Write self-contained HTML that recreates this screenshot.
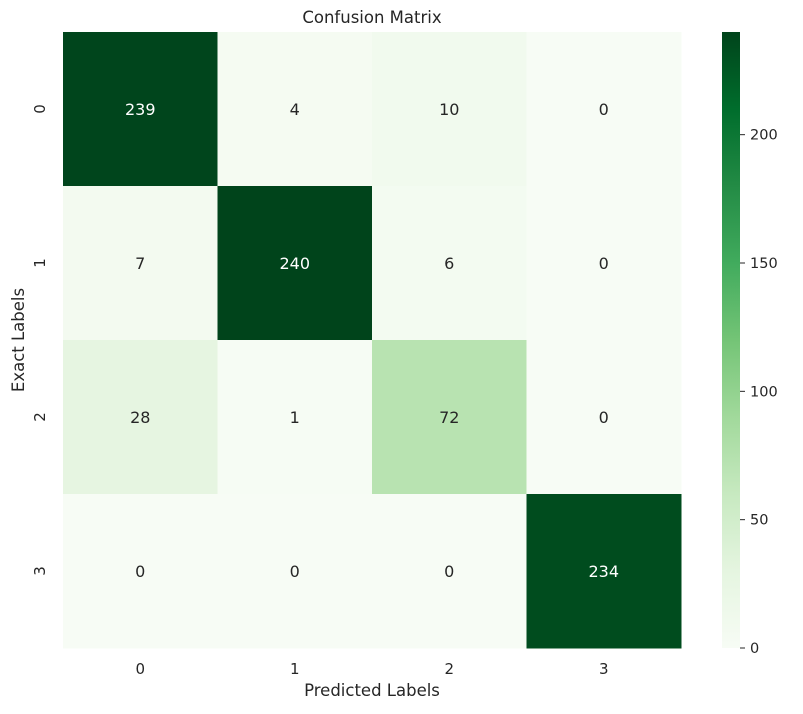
<!DOCTYPE html>
<html><head><meta charset="utf-8"><style>
body{margin:0;background:#fff;font-family:"DejaVu Sans","Liberation Sans",sans-serif;}
</style></head><body>
<svg id="chart" width="803" height="710" font-family="DejaVu Sans, Liberation Sans, sans-serif">
<defs><linearGradient id="cbgrad" x1="0" y1="1" x2="0" y2="0">
<stop offset="0" stop-color="#f7fcf5"/><stop offset="0.125" stop-color="#e5f5e0"/><stop offset="0.25" stop-color="#c7e9c0"/><stop offset="0.375" stop-color="#a1d99b"/><stop offset="0.5" stop-color="#74c476"/><stop offset="0.625" stop-color="#41ab5d"/><stop offset="0.75" stop-color="#238b45"/><stop offset="0.875" stop-color="#006d2c"/><stop offset="1" stop-color="#00441b"/>
</linearGradient></defs>
<text x="372" y="23" font-size="16.5" text-anchor="middle" fill="#262626">Confusion Matrix</text>
<g id="cells"></g>
<text x="372" y="696" font-size="16.5" text-anchor="middle" fill="#262626">Predicted Labels</text>
<text transform="translate(24,340) rotate(-90)" font-size="16.5" text-anchor="middle" fill="#262626">Exact Labels</text>
<rect x="722" y="32" width="18" height="616" fill="url(#cbgrad)"/>
<g id="cbticks"></g>
</svg>
<script>
const labels=["0","1","2","3"];
const matrix=[[239,4,10,0],[7,240,6,0],[28,1,72,0],[0,0,0,234]];
const cbTicks=[0,50,100,150,200];
const vmin=0,vmax=240;
const X0=63,X1=681,Y0=32,Y1=648;
const stops=["f7fcf5","e5f5e0","c7e9c0","a1d99b","74c476","41ab5d","238b45","006d2c","00441b"].map(h=>[0,2,4].map(i=>parseInt(h.substr(i,2),16)));
function color(v){let t=Math.max(0,Math.min(1,(v-vmin)/(vmax-vmin)))*(stops.length-1);let i=Math.min(Math.floor(t),stops.length-2),f=t-i;
return "rgb("+stops[i].map((c,k)=>Math.round(c+(stops[i+1][k]-c)*f)).join(",")+")";}
const n=labels.length,cw=(X1-X0)/n,ch=(Y1-Y0)/n;
const xs=i=>X0+i*cw, ys=j=>Y0+j*ch;
const NS="http://www.w3.org/2000/svg";
const g=document.getElementById("cells");
function mk(tag,attrs,parent){const e=document.createElementNS(NS,tag);for(const k in attrs)e.setAttribute(k,attrs[k]);parent.appendChild(e);return e;}
matrix.forEach((row,r)=>row.forEach((v,c)=>{
 const rc=mk("rect",{x:xs(c),y:ys(r),width:cw+0.5,height:ch+0.5,fill:color(v)},g);
 
 
 const t=mk("text",{x:xs(c)+cw/2,y:ys(r)+ch/2+6,"font-size":16,"text-anchor":"middle",fill:(v-vmin)/(vmax-vmin)>0.5?"#ffffff":"#262626"},g);
 t.textContent=v;
 
 
}));
labels.forEach((l,i)=>{
 const t=mk("text",{x:xs(i)+cw/2,y:674,"font-size":15,"text-anchor":"middle",fill:"#262626"},g);
 t.textContent=l;
 
 
 const yy=ys(i)+ch/2;
 const t2=mk("text",{transform:"translate(45,"+yy+") rotate(-90)","font-size":15,"text-anchor":"middle",fill:"#262626"},g);
 t2.textContent=l;
 
 
});
const cb=document.getElementById("cbticks");
cbTicks.forEach(v=>{
 const y=Y1-(v-vmin)/(vmax-vmin)*(Y1-Y0);
 const ln=mk("line",{x1:740,x2:745,y1:y,y2:y,stroke:"#262626","stroke-width":1},cb);
 
 
 const t=mk("text",{x:750,y:y+5,"font-size":14.5,fill:"#262626"},cb);
 t.textContent=v;
 
 
});
</script>
</body></html>
